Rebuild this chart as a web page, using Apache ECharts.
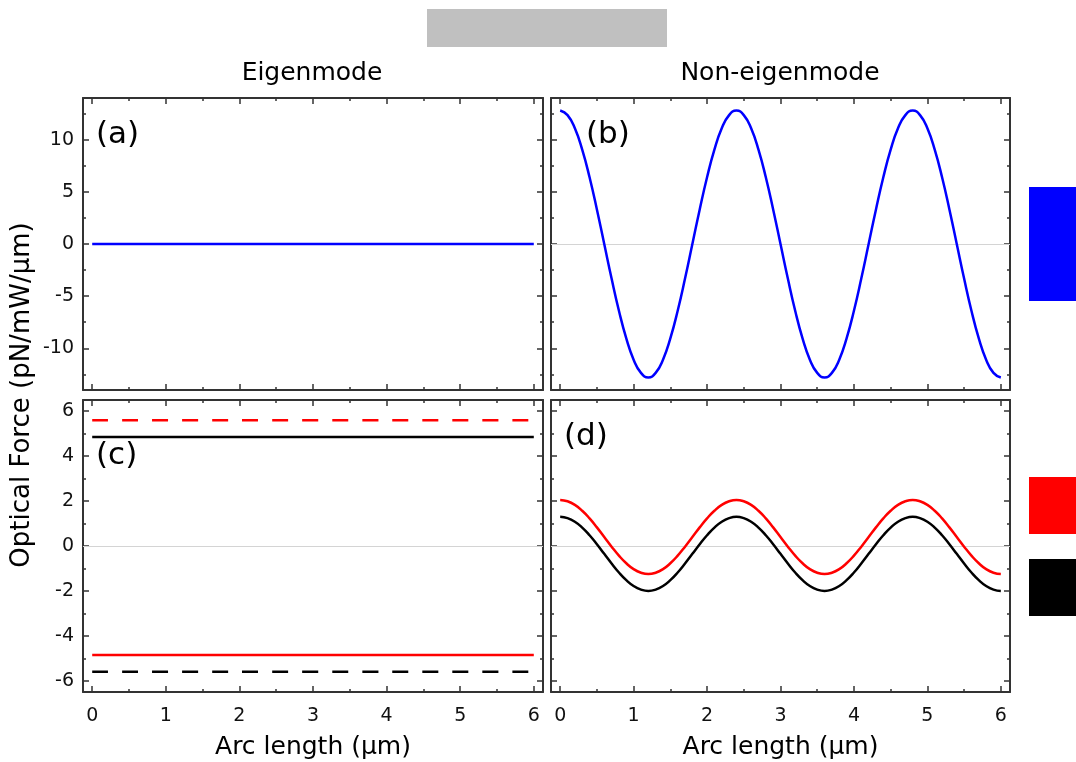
<!DOCTYPE html>
<html>
<head>
<meta charset="utf-8">
<script src="https://cdn.jsdelivr.net/npm/echarts@6/dist/echarts.min.js"></script>
<style>html,body{margin:0;padding:0;background:#fff;}#chart{width:1076px;height:762px;}</style>
</head>
<body>
<div id="chart"></div>
<script>
// ---- data ----
const arcX = [0,0.1,0.2,0.3,0.4,0.5,0.6,0.7,0.8,0.9,1.0,1.1,1.2,1.3,1.4,1.5,1.6,1.7,1.8,1.9,2.0,
  2.1,2.2,2.3,2.4,2.5,2.6,2.7,2.8,2.9,3.0,3.1,3.2,3.3,3.4,3.5,3.6,3.7,3.8,3.9,4.0,
  4.1,4.2,4.3,4.4,4.5,4.6,4.7,4.8,4.9,5.0,5.1,5.2,5.3,5.4,5.5,5.6,5.7,5.8,5.9,6.0];
const forceB = [12.8,12.36,11.09,9.05,6.4,3.31,0,-3.31,-6.4,-9.05,-11.09,-12.36,-12.8,-12.36,-11.09,-9.05,-6.4,-3.31,0,3.31,6.4,9.05,11.09,12.36,
  12.8,12.36,11.09,9.05,6.4,3.31,0,-3.31,-6.4,-9.05,-11.09,-12.36,-12.8,-12.36,-11.09,-9.05,-6.4,-3.31,0,3.31,6.4,9.05,11.09,12.36,
  12.8,12.36,11.09,9.05,6.4,3.31,0,-3.31,-6.4,-9.05,-11.09,-12.36,-12.8];
const forceDred = [2.05,1.99,1.83,1.57,1.23,0.83,0.4,-0.03,-0.43,-0.77,-1.03,-1.19,-1.25,-1.19,-1.03,-0.77,-0.43,-0.03,0.4,0.83,1.23,1.57,1.83,1.99,
  2.05,1.99,1.83,1.57,1.23,0.83,0.4,-0.03,-0.43,-0.77,-1.03,-1.19,-1.25,-1.19,-1.03,-0.77,-0.43,-0.03,0.4,0.83,1.23,1.57,1.83,1.99,
  2.05,1.99,1.83,1.57,1.23,0.83,0.4,-0.03,-0.43,-0.77,-1.03,-1.19,-1.25];
const forceDblack = [1.3,1.24,1.08,0.82,0.48,0.08,-0.35,-0.78,-1.18,-1.52,-1.78,-1.94,-2.0,-1.94,-1.78,-1.52,-1.18,-0.78,-0.35,0.08,0.48,0.82,1.08,1.24,
  1.3,1.24,1.08,0.82,0.48,0.08,-0.35,-0.78,-1.18,-1.52,-1.78,-1.94,-2.0,-1.94,-1.78,-1.52,-1.18,-0.78,-0.35,0.08,0.48,0.82,1.08,1.24,
  1.3,1.24,1.08,0.82,0.48,0.08,-0.35,-0.78,-1.18,-1.52,-1.78,-1.94,-2.0];
const lineEnds = [0, 6];
const forceA = 0;
const forceCredDashed = 5.6;
const forceCblackSolid = 4.85;
const forceCredSolid = -4.85;
const forceCblackDashed = -5.6;

const xMajor = [0,1,2,3,4,5,6];
const xMinor = [0.5,1.5,2.5,3.5,4.5,5.5];
const yMajorTop = [-10,-5,0,5,10];
const yMinorTop = [-12.5,-7.5,-2.5,2.5,7.5,12.5];
const yMajorBot = [-6,-4,-2,0,2,4,6];
const yMinorBot = [-5,-3,-1,1,3,5];
const X_RANGE = [-0.125, 6.125];
const Y_RANGE_TOP = [-14, 14];
const Y_RANGE_BOT = [-6.5, 6.5];

// ---- chart ----
const FONT = 'DejaVu Sans';
const FRAME = '#333';
const grids = [
  {left: 83, top: 98, width: 460, height: 292},
  {left: 551, top: 98, width: 459, height: 292},
  {left: 83, top: 400, width: 460, height: 292},
  {left: 551, top: 400, width: 459, height: 292}
];
const xAxes = [], yAxes = [];
function axisSet(dim, gi, range, major, minor, showLabels, name) {
  const pos = dim === 'x' ? ['bottom', 'top'] : ['left', 'right'];
  const arr = dim === 'x' ? xAxes : yAxes;
  const base = {type: 'value', gridIndex: gi, min: range[0], max: range[1], splitLine: {show: false}};
  pos.forEach((p, k) => {
    arr.push(Object.assign({}, base, {
      position: p,
      axisLine: {show: true, onZero: false, lineStyle: {color: FRAME, width: 2}},
      axisTick: {show: true, inside: true, length: 6, customValues: major, lineStyle: {color: FRAME, width: 1.5}},
      axisLabel: {show: k === 0 && showLabels, customValues: major, fontSize: 19, fontFamily: FONT, color: '#111', margin: dim === 'x' ? 15 : 9},
      name: k === 0 && name ? name : '',
      nameLocation: 'middle',
      nameGap: 43,
      nameTextStyle: {fontSize: 25, fontFamily: FONT, color: '#000'}
    }));
    arr.push(Object.assign({}, base, {
      position: p,
      axisLine: {show: false, onZero: false},
      axisTick: {show: true, inside: true, length: 3, customValues: minor, lineStyle: {color: FRAME, width: 1.5}},
      axisLabel: {show: false}
    }));
  });
}
axisSet('x', 0, X_RANGE, xMajor, xMinor, false, '');
axisSet('y', 0, Y_RANGE_TOP, yMajorTop, yMinorTop, true, '');
axisSet('x', 1, X_RANGE, xMajor, xMinor, false, '');
axisSet('y', 1, Y_RANGE_TOP, yMajorTop, yMinorTop, false, '');
axisSet('x', 2, X_RANGE, xMajor, xMinor, true, 'Arc length (μm)');
axisSet('y', 2, Y_RANGE_BOT, yMajorBot, yMinorBot, true, '');
axisSet('x', 3, X_RANGE, xMajor, xMinor, true, 'Arc length (μm)');
axisSet('y', 3, Y_RANGE_BOT, yMajorBot, yMinorBot, false, '');

// zero reference line drawn beneath the curves
function zeroSeries(gi) {
  return {
    type: 'line', xAxisIndex: gi * 4, yAxisIndex: gi * 4, data: [], z: 1,
    symbol: 'none', silent: true,
    markLine: {
      silent: true, symbol: 'none', label: {show: false}, z: 1,
      lineStyle: {color: '#d4d4d4', width: 1, type: 'solid'},
      emphasis: {disabled: true},
      data: [{yAxis: 0}]
    }
  };
}
function lineSeries(gi, data, color, dashed) {
  return {
    type: 'line', xAxisIndex: gi * 4, yAxisIndex: gi * 4, data: data,
    showSymbol: false, symbol: 'none', smooth: true, z: 3,
    lineStyle: {color: color, width: 2.5, type: dashed ? [16, 14] : 'solid'},
    emphasis: {disabled: true}
  };
}
const pair = (xs, ys) => xs.map((x, i) => [x, ys[i]]);
const flat = v => lineEnds.map(x => [x, v]);

const series = [
  zeroSeries(1), zeroSeries(2), zeroSeries(3),
  lineSeries(0, flat(forceA), '#0000ff', false),
  lineSeries(1, pair(arcX, forceB), '#0000ff', false),
  lineSeries(2, flat(forceCredDashed), '#ff0000', true),
  lineSeries(2, flat(forceCblackSolid), '#000000', false),
  lineSeries(2, flat(forceCredSolid), '#ff0000', false),
  lineSeries(2, flat(forceCblackDashed), '#000000', true),
  lineSeries(3, pair(arcX, forceDred), '#ff0000', false),
  lineSeries(3, pair(arcX, forceDblack), '#000000', false)
];

const txt = (text, x, y, size, align, extra) => Object.assign({
  type: 'text', x: x, y: y, silent: true,
  style: {text: text, fontSize: size, fontFamily: FONT, fill: '#000', align: align, verticalAlign: 'middle'}
}, extra || {});

const graphic = [
  {type: 'rect', shape: {x: 427, y: 9, width: 240, height: 38}, style: {fill: '#c0c0c0'}, silent: true},
  txt('Eigenmode', 312, 73, 25, 'center'),
  txt('Non-eigenmode', 780, 73, 25, 'center'),
  txt('(a)', 96, 135, 31, 'left'),
  txt('(b)', 586, 135, 31, 'left'),
  txt('(c)', 96, 456, 31, 'left'),
  txt('(d)', 564, 437, 31, 'left'),
  txt('Optical Force (pN/mW/μm)', 22, 395, 26, 'center', {rotation: Math.PI / 2}),
  {type: 'rect', shape: {x: 1029, y: 187, width: 47, height: 114}, style: {fill: '#0000ff'}, silent: true},
  {type: 'rect', shape: {x: 1029, y: 477, width: 47, height: 57}, style: {fill: '#ff0000'}, silent: true},
  {type: 'rect', shape: {x: 1029, y: 559, width: 47, height: 57}, style: {fill: '#000000'}, silent: true}
];

const chart = echarts.init(document.getElementById('chart'), null, {renderer: 'canvas'});
chart.setOption({
  animation: false,
  backgroundColor: '#fff',
  grid: grids,
  xAxis: xAxes,
  yAxis: yAxes,
  series: series,
  graphic: graphic
});
</script>
</body>
</html>
